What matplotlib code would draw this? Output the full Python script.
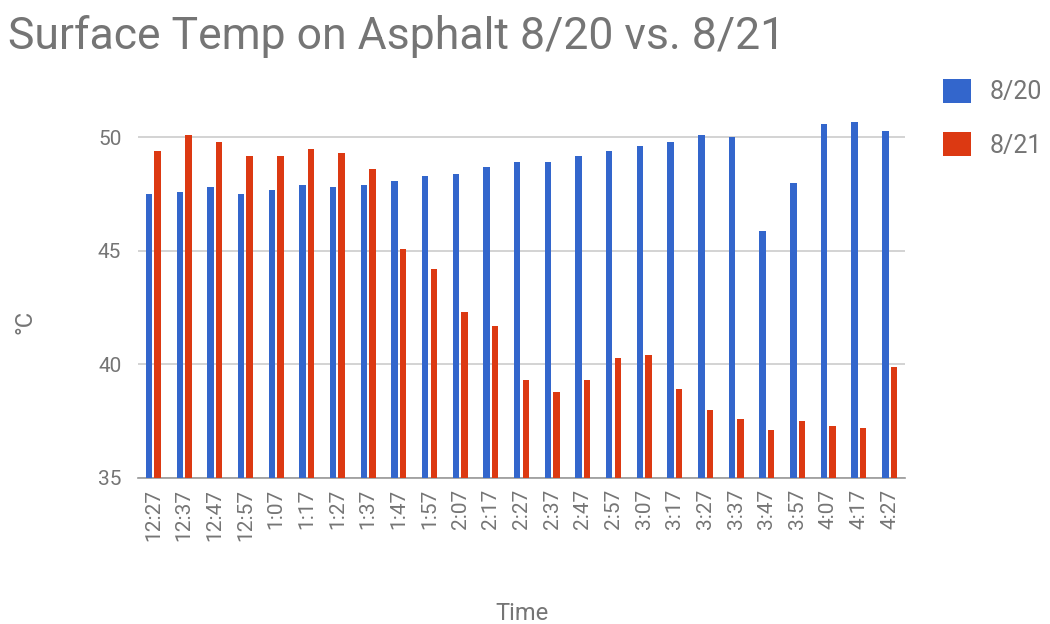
import matplotlib.pyplot as plt
import numpy as np

### DATA ###
times = ["12:27", "12:37", "12:47", "12:57", "1:07", "1:17", "1:27", "1:37",
         "1:47", "1:57", "2:07", "2:17", "2:27", "2:37", "2:47", "2:57",
         "3:07", "3:17", "3:27", "3:37", "3:47", "3:57", "4:07", "4:17", "4:27"]
temp_0820 = [47.5, 47.6, 47.8, 47.5, 47.7, 47.9, 47.8, 47.9,
             48.1, 48.3, 48.4, 48.7, 48.9, 48.9, 49.2, 49.4,
             49.6, 49.8, 50.1, 50.0, 45.9, 48.0, 50.6, 50.7, 50.3]
temp_0821 = [49.4, 50.1, 49.8, 49.2, 49.2, 49.5, 49.3, 48.6,
             45.1, 44.2, 42.3, 41.7, 39.3, 38.8, 39.3, 40.3,
             40.4, 38.9, 38.0, 37.6, 37.1, 37.5, 37.3, 37.2, 39.9]
series_names = ["8/20", "8/21"]

### STYLE ###
BLUE = "#3366cc"
RED = "#dc3912"
GREY = "#757575"
GRID = "#cccccc"
BAR_W = 0.21

plt.rcParams['font.family'] = ['Roboto', 'DejaVu Sans']

fig = plt.figure(figsize=(10.5, 6.24), dpi=100)
ax = fig.add_axes([138 / 1050, 1 - 478 / 624, 767 / 1050, (478 - 92) / 624])

x = np.arange(len(times))
ax.bar(x - 0.14, temp_0820, width=BAR_W, color=BLUE, label=series_names[0], zorder=3)
ax.bar(x + 0.14, temp_0821, width=BAR_W, color=RED, label=series_names[1], zorder=3)

ax.set_xlim(-0.5, len(times) - 0.5)
ax.set_ylim(35, 52)
ax.set_yticks([35, 40, 45, 50])
ax.yaxis.grid(True, color=GRID, linewidth=1.2, zorder=0)
ax.set_axisbelow(True)

for side in ["top", "right", "left"]:
    ax.spines[side].set_visible(False)
ax.spines["bottom"].set_color("#999999")
ax.spines["bottom"].set_linewidth(1.2)

ax.set_xticks(x)
ax.set_xticklabels(times, rotation=90)
ax.tick_params(axis="both", length=0, colors=GREY, labelsize=15)
ax.tick_params(axis="y", pad=12)
ax.tick_params(axis="x", pad=8)

ax.set_xlabel("Time", color=GREY, fontsize=17, labelpad=44)
# y label placed by hand, far left like the original
fig.text(25 / 1050, 1 - 322 / 624, "°C", color=GREY, fontsize=17,
         rotation=90, va="center", ha="center")

fig.text(8 / 1050, 1 - 36 / 624, "Surface Temp on Asphalt 8/20 vs. 8/21",
         color=GREY, fontsize=32, va="center", ha="left")

leg = ax.legend(loc="upper left", bbox_to_anchor=(943 / 1050, 1 - 79 / 624),
                bbox_transform=fig.transFigure, frameon=False, fontsize=18,
                borderpad=0, borderaxespad=0,
                handlelength=1.1, handleheight=1.1, labelspacing=1.1,
                handletextpad=0.75)
for t in leg.get_texts():
    t.set_color(GREY)

fig.savefig("out.png", dpi=100)
